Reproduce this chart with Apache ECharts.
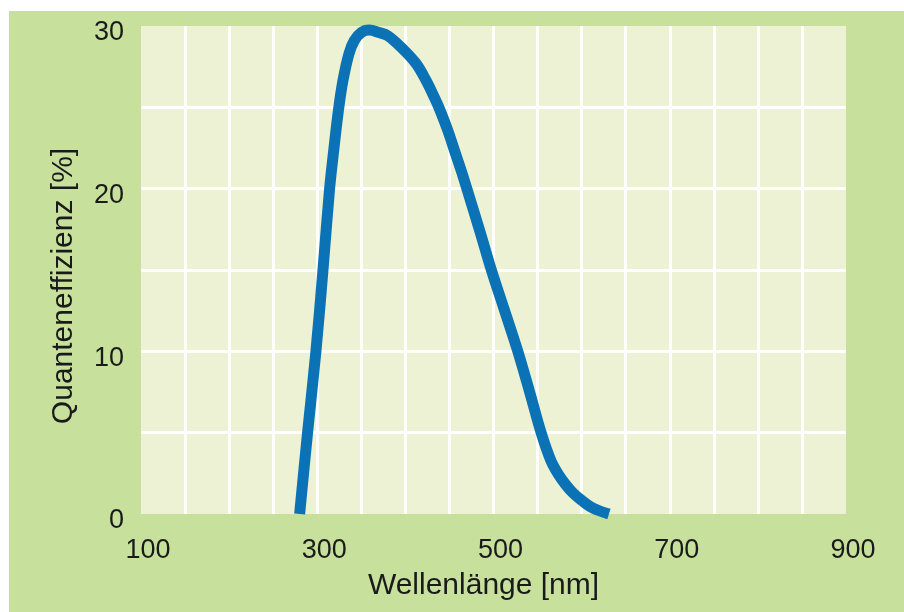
<!DOCTYPE html>
<html>
<head>
<meta charset="utf-8">
<script src="https://cdn.jsdelivr.net/npm/echarts@6/dist/echarts.min.js"></script>
<style>
html,body{margin:0;padding:0;background:#ffffff;}
#chart{width:904px;height:612px;}
</style>
</head>
<body>
<div id="chart"></div>
<script>
// Wavelength (nm) and quantum efficiency (%)
const wavelengths = [280, 289, 298.5, 306.5, 314, 319, 324, 329, 336, 342, 350, 359, 370, 380, 395, 412, 423, 433, 438, 448, 456, 464, 472, 485, 497, 512, 527, 541, 554, 565, 574, 582, 591, 601, 610, 620, 631];
const efficiency  = [0, 5, 10, 15, 20, 22.5, 24.8, 26.6, 28.3, 29.1, 29.6, 29.75, 29.6, 29.4, 28.7, 27.7, 26.7, 25.6, 25.0, 23.6, 22.3, 21.0, 19.6, 17.3, 15.1, 12.6, 10.1, 7.5, 5.0, 3.3, 2.4, 1.8, 1.25, 0.8, 0.45, 0.2, 0];
const xTickLabels = [100, 300, 500, 700, 900];
const yTickLabels = [0, 10, 20, 30];
const xTitle = 'Wellenlänge [nm]';
const yTitle = 'Quanteneffizienz [%]';

const chart = echarts.init(document.getElementById('chart'), null, {renderer: 'canvas'});
const font = "'Liberation Sans', Arial, sans-serif";
const textColor = '#1a1a1a';

chart.setOption({
  animation: false,
  backgroundColor: 'transparent',
  graphic: [{
    type: 'rect',
    z: -10,
    silent: true,
    shape: {x: 9, y: 11, width: 895, height: 601},
    style: {fill: '#c7e19d'}
  }],
  grid: {
    left: 141, top: 26, right: 58, bottom: 98,
    show: true, backgroundColor: '#ecf2d3', borderWidth: 0
  },
  xAxis: {
    type: 'value', min: 100, max: 900, interval: 50,
    axisLine: {show: false}, axisTick: {show: false},
    splitLine: {show: true, showMinLine: false, showMaxLine: false, lineStyle: {color: '#ffffff', width: 3}},
    axisLabel: {
      fontSize: 27, fontFamily: font, color: textColor, margin: 23,
      padding: [0, 0, 0, 14],
      formatter: v => xTickLabels.includes(v) ? String(v) : ''
    },
    name: xTitle, nameLocation: 'middle', nameGap: 57,
    nameTextStyle: {fontSize: 30, fontFamily: font, color: textColor, padding: [0, 20, 0, 0]}
  },
  yAxis: {
    type: 'value', min: 0, max: 30, interval: 5,
    axisLine: {show: false}, axisTick: {show: false},
    splitLine: {show: true, showMinLine: false, showMaxLine: false, lineStyle: {color: '#ffffff', width: 3}},
    axisLabel: {
      fontSize: 27, fontFamily: font, color: textColor, margin: 17,
      verticalAlign: 'top', lineHeight: 14,
      formatter: v => yTickLabels.includes(v) ? String(v) : ''
    },
    name: yTitle, nameLocation: 'middle', nameGap: 62, nameRotate: 90,
    nameTextStyle: {fontSize: 30, fontFamily: font, color: textColor, padding: [0, 32, 0, 0]}
  },
  series: [{
    type: 'line',
    data: wavelengths.map((w, i) => [w, efficiency[i]]),
    showSymbol: false,
    smooth: 0.35,
    clip: true,
    lineStyle: {color: '#0b72b6', width: 11, cap: 'butt', join: 'round'}
  }]
});
</script>
</body>
</html>
